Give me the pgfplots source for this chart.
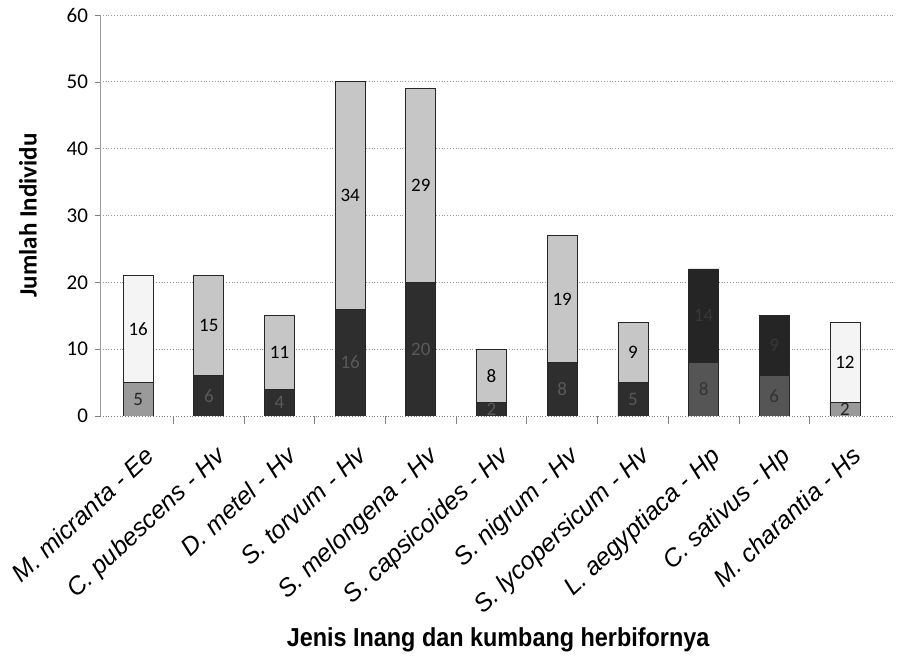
\documentclass[border=0pt]{standalone}
\usepackage{fontspec}
\setmainfont{Liberation Sans}
\newfontfamily\carlito{Carlito}
\newfontfamily\narrowbold[FakeStretch=0.9]{Liberation Sans Bold}
\usepackage{pgfplots}
\pgfplotsset{compat=1.18}

\definecolor{barDark}{HTML}{2E2E2E}
\definecolor{barMid}{HTML}{9A9A9A}
\definecolor{barDG}{HTML}{555555}
\definecolor{barLight}{HTML}{C6C6C6}
\definecolor{barWhite}{HTML}{F4F4F4}
\definecolor{barTop}{HTML}{252525}

\begin{document}
\begin{tikzpicture}
\begin{axis}[
    width=396.5pt, height=200.5pt,
    scale only axis,
    ybar stacked,
    bar width=15pt,
    xmin=-0.54, xmax=10.68,
    ymin=0, ymax=60,
    ytick={0,10,...,60},
    xtick={0,...,10},
    xticklabels={M. micranta - Ee, C. pubescens - Hv, D. metel - Hv,
        S. torvum - Hv, S. melongena - Hv, S. capsicoides - Hv,
        S. nigrum - Hv, S. lycopersicum - Hv, L. aegyptiaca - Hp,
        C. sativus - Hp, M. charantia - Hs},
    minor xtick={0.5,1.5,...,9.5},
    major x tick style={draw=none},
    minor x tick style={gray, thin},
    minor tick length=4pt,
    major tick length=2.5pt,
    tick align=outside,
    tick pos=left,
    ymajorgrids,
    major grid style={densely dotted, gray!80},
    axis x line*=bottom,
    axis y line*=left,
    x axis line style={densely dotted, gray, -},
    y axis line style={gray!80, -},
    ytick style={gray},
    /pgf/number format/assume math mode=true,
    yticklabel style={font=\carlito\fontsize{10.5}{12}\selectfont},
    xticklabel style={font=\itshape\fontsize{12.5}{14}\selectfont, rotate=43, anchor=north east, inner sep=1pt, xshift=-5pt, yshift=-9.5pt},
    ylabel={Jumlah Individu},
    ylabel style={font=\carlito\bfseries\fontsize{12.5}{14}\selectfont, yshift=8pt},
    xlabel={Jenis Inang dan kumbang herbifornya},
    xlabel style={font=\narrowbold\fontsize{13}{15}\selectfont,
        at={(axis description cs:0.502,0)}, anchor=center, yshift=-112pt},
    point meta=explicit symbolic,
    nodes near coords,
    every node near coord/.append style={font=\carlito\fontsize{9.5}{11}\selectfont, anchor=center},
]
% bottom segments
\addplot[fill=barDark, draw=black!85, nodes near coords style={text=black!65}] coordinates {
    (0,0) [] (1,6) [6] (2,4) [4] (3,16) [16] (4,20) [20] (5,2) [2]
    (6,8) [8] (7,5) [5] (8,0) [] (9,0) [] (10,0) []
};
\addplot[fill=barMid, draw=black!85, nodes near coords style={text=black!85}] coordinates {
    (0,5) [5] (1,0) [] (2,0) [] (3,0) [] (4,0) [] (5,0) []
    (6,0) [] (7,0) [] (8,0) [] (9,0) [] (10,2) [2]
};
\addplot[fill=barDG, draw=black!85, nodes near coords style={text=black!80}] coordinates {
    (0,0) [] (1,0) [] (2,0) [] (3,0) [] (4,0) [] (5,0) []
    (6,0) [] (7,0) [] (8,8) [8] (9,6) [6] (10,0) []
};
% top segments
\addplot[fill=barLight, draw=black!85, nodes near coords style={text=black}] coordinates {
    (0,0) [] (1,15) [15] (2,11) [11] (3,34) [34] (4,29) [29] (5,8) [8]
    (6,19) [19] (7,9) [9] (8,0) [] (9,0) [] (10,0) []
};
\addplot[fill=barWhite, draw=black!85, nodes near coords style={text=black}] coordinates {
    (0,16) [16] (1,0) [] (2,0) [] (3,0) [] (4,0) [] (5,0) []
    (6,0) [] (7,0) [] (8,0) [] (9,0) [] (10,12) [12]
};
\addplot[fill=barTop, draw=black!85, nodes near coords style={text=barTop!92!white}] coordinates {
    (0,0) [] (1,0) [] (2,0) [] (3,0) [] (4,0) [] (5,0) []
    (6,0) [] (7,0) [] (8,14) [14] (9,9) [9] (10,0) []
};
\end{axis}
\pgfresetboundingbox
\path ([xshift=-50pt, yshift=-121pt]current axis.south west)
    rectangle ([xshift=3.5pt, yshift=7.5pt]current axis.north east);
\end{tikzpicture}
\end{document}
